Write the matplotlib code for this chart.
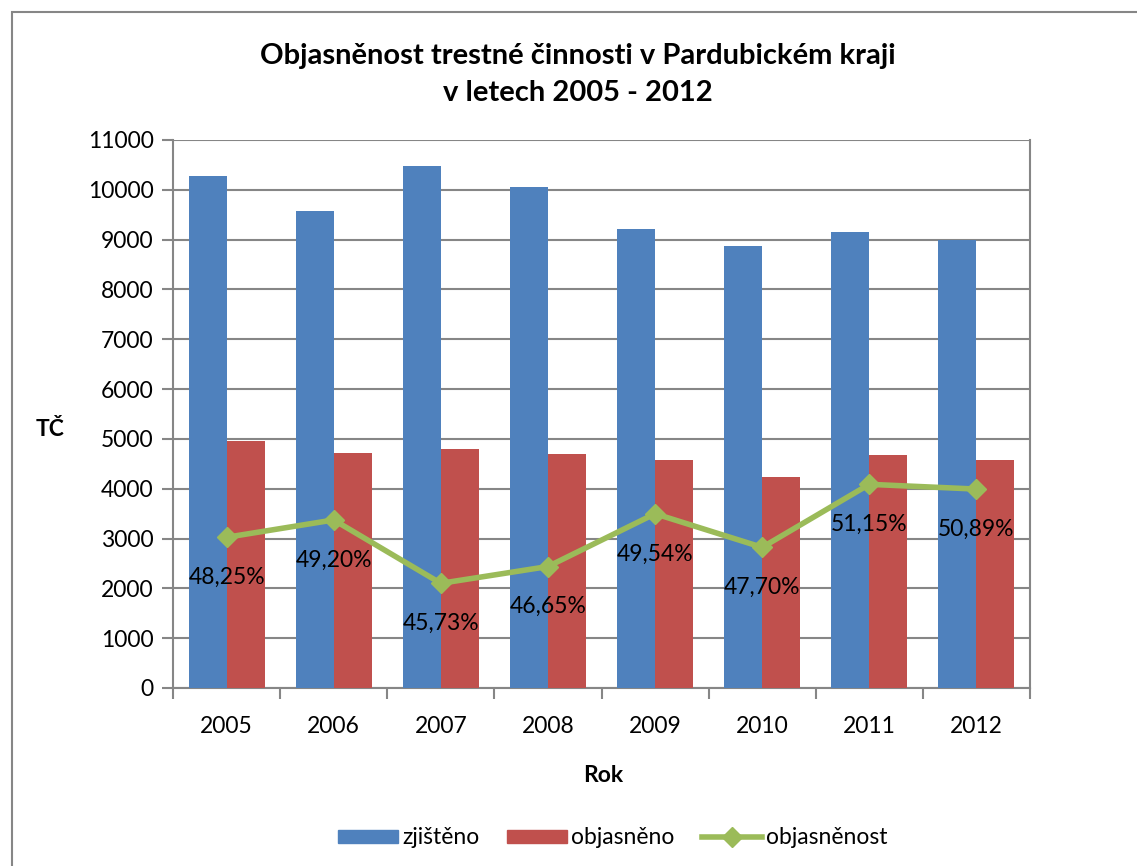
import numpy as np
import matplotlib.pyplot as plt
from matplotlib.patches import Rectangle
from matplotlib.lines import Line2D

plt.rcParams['font.family'] = ['Lato', 'DejaVu Sans']

roky = ['2005', '2006', '2007', '2008', '2009', '2010', '2011', '2012']
zjisteno = [10280, 9580, 10480, 10060, 9220, 8870, 9150, 9000]
objasneno = [4960, 4715, 4795, 4690, 4570, 4230, 4680, 4580]
objasnenost = [48.25, 49.20, 45.73, 46.65, 49.54, 47.70, 51.15, 50.89]

modra = '#4F81BD'
cervena = '#C0504D'
zelena = '#9BBB59'
seda = '#868686'

fig = plt.figure(figsize=(11.37, 8.66), dpi=100)
ax = fig.add_axes([173/1137, 1 - 688/866, 857/1137, 548/866])

x = np.arange(len(roky))
w = 0.355
ax.bar(x - w/2, zjisteno, w, color=modra, zorder=3, label='zjištěno')
ax.bar(x + w/2, objasneno, w, color=cervena, zorder=3, label='objasněno')

ax.set_xlim(-0.5, len(roky) - 0.5)
ax.set_ylim(0, 11000)
ax.set_yticks(np.arange(0, 11001, 1000))
ax.set_xticks(np.arange(-0.5, len(roky), 1))
ax.set_xticklabels([])
ax.set_xticks(x, minor=True)
ax.set_xticklabels(roky, minor=True)
ax.tick_params(axis='x', which='minor', length=0, pad=20, labelsize=16.5)
ax.tick_params(axis='x', which='major', length=8, color=seda, width=1.5)
ax.tick_params(axis='y', length=8, color=seda, width=1.5, labelsize=16.5, pad=6)
ax.grid(axis='y', color=seda, linewidth=1.5, zorder=0)
ax.spines['top'].set_visible(False)
for s in ['left', 'right', 'bottom']:
    ax.spines[s].set_color(seda)
    ax.spines[s].set_linewidth(1.5)

# procenta na vedlejsi (skryte) ose
ax2 = ax.twinx()
ax2.set_ylim(40, 70)
ax2.plot(x, objasnenost, color=zelena, linewidth=4, marker='D', markersize=10,
         zorder=5, label='objasněnost')
ax2.set_yticks([])
for s in ax2.spines.values():
    s.set_visible(False)
for xi, v in zip(x, objasnenost):
    ax2.annotate(f'{v:.2f}%'.replace('.', ','), (xi, v), xytext=(0, -29),
                 textcoords='offset points', ha='center', va='center', fontsize=16.5)

fig.text(578/1137, 1 - 56/866, 'Objasněnost trestné činnosti v Pardubickém kraji',
         ha='center', va='center', fontsize=21, fontweight='bold')
fig.text(578/1137, 1 - 93/866, 'v letech 2005 - 2012',
         ha='center', va='center', fontsize=21, fontweight='bold')
fig.text(50/1137, 1 - 430/866, 'TČ', ha='center', va='center', fontsize=16.5, fontweight='bold')
fig.text(603/1137, 1 - 776/866, 'Rok', ha='center', va='center', fontsize=16.5, fontweight='bold')

handles = [Rectangle((0, 0), 1, 1, color=modra), Rectangle((0, 0), 1, 1, color=cervena),
           Line2D([], [], color=zelena, linewidth=4, marker='D', markersize=10)]
fig.legend(handles, ['zjištěno', 'objasněno', 'objasněnost'], loc='center',
           bbox_to_anchor=(613/1137, 1 - 838/866), ncol=3, frameon=False, fontsize=16.5,
           handlelength=2.6, handleheight=0.5, handletextpad=0.2, columnspacing=1.2)

fig.patches.append(Rectangle((12/1137, -0.1), 1.2, 1 - 12/866 + 0.1, transform=fig.transFigure,
                             fill=False, edgecolor=seda, linewidth=1.5))

fig.savefig('out.png', dpi=100)
